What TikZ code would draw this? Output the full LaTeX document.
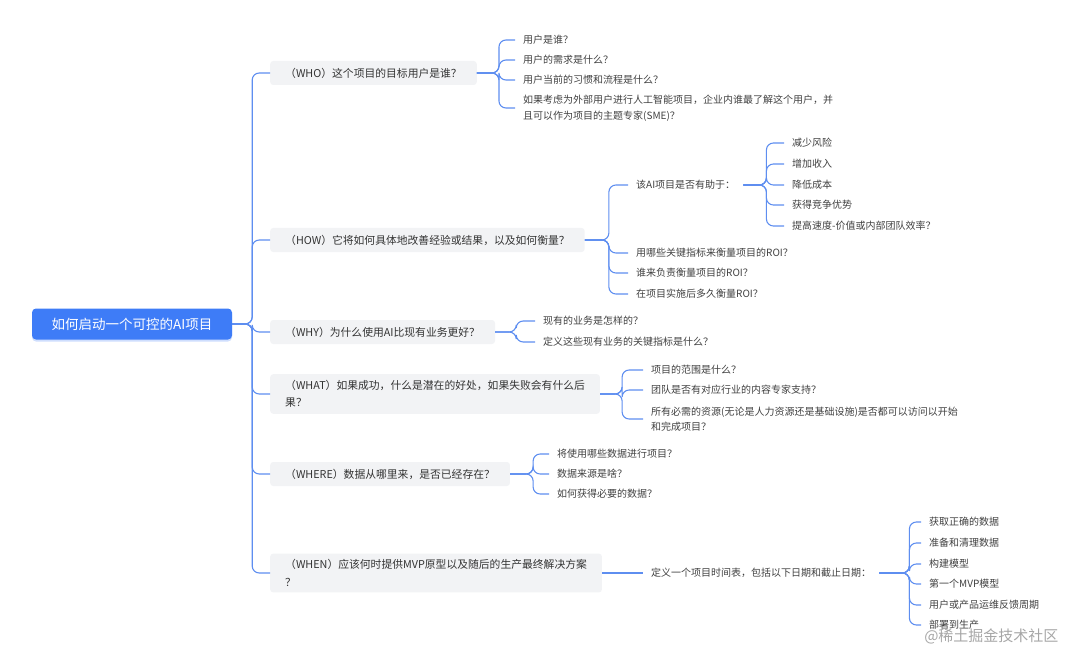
\documentclass[tikz,border=0pt]{standalone}
\usepackage{fontspec}
\setmainfont{Noto Sans CJK SC}
\usetikzlibrary{positioning,shadows}
\definecolor{cLink}{RGB}{94,142,240}
\definecolor{cRoot}{RGB}{62,124,247}
\definecolor{cBox}{RGB}{242,243,245}
\definecolor{cText}{RGB}{51,51,51}
\definecolor{cLeaf}{RGB}{64,64,64}
\tikzset{myroot/.style={
  shape=rectangle,
  rounded corners=4pt,
  fill=cRoot,
  text=white,
  minimum width=200pt,
  minimum height=31pt,
  font=\fontsize{13.5}{16}\selectfont,
  drop shadow={fill=cRoot, opacity=0.25, shadow xshift=0pt, shadow yshift=-2pt},
  }
}
\tikzset{mybranch/.style={
  shape=rectangle,
  rounded corners=3pt,
  fill=cBox,
  text=cText,
  anchor=west,
  align=left,
  inner xsep=15pt,
  inner ysep=6pt,
  minimum height=24pt,
  font=\fontsize{10.8}{17.5}\selectfont,
  }
}
\tikzset{myleaf/.style={
  anchor=west,
  align=left,
  text=cLeaf,
  inner xsep=8pt,
  inner ysep=2pt,
  font=\fontsize{10}{15.5}\selectfont,
  }
}
\tikzset{mylink/.style={
  draw=cLink,
  line width=1.1pt,
  rounded corners=7pt,
  }
}
\tikzset{mymark/.style={
  text=black!35,
  font=\fontsize{15}{18}\selectfont,
  }
}

\begin{document}
\begin{tikzpicture}[x=1pt,y=-1pt]
  \useasboundingbox (0,0) rectangle (1080,666);

  \node[myroot] (root) at (132,324) {如何启动一个可控的AI项目};

  \node[mybranch] (who)   at (270,73)  {（WHO）这个项目的目标用户是谁？};
  \node[mybranch] (how)   at (270,240) {（HOW）它将如何具体地改善经验或结果，以及如何衡量？};
  \node[mybranch] (why)   at (270,332) {（WHY）为什么使用AI比现有业务更好？};
  \node[mybranch] (what)  at (270,394) {（WHAT）如果成功，什么是潜在的好处，如果失败会有什么后\\果？};
  \node[mybranch] (where) at (270,474) {（WHERE）数据从哪里来，是否已经存在？};
  \node[mybranch] (when)  at (270,573) {（WHEN）应该何时提供MVP原型以及随后的生产最终解决方案\\？};

  % who
  \node[myleaf] (who1) at (515,40)  {用户是谁？};
  \node[myleaf] (who2) at (515,60)  {用户的需求是什么？};
  \node[myleaf] (who3) at (515,80)  {用户当前的习惯和流程是什么？};
  \node[myleaf] (who4) at (515,108) {如果考虑为外部用户进行人工智能项目，企业内谁最了解这个用户，并\\且可以作为项目的主题专家(SME)？};

  % how
  \node[myleaf] (how1) at (628,185) {该AI项目是否有助于：};
  \node[myleaf] (how2) at (628,253) {用哪些关键指标来衡量项目的ROI？};
  \node[myleaf] (how3) at (628,273) {谁来负责衡量项目的ROI？};
  \node[myleaf] (how4) at (628,294) {在项目实施后多久衡量ROI？};

  \node[myleaf] (howa) at (784,143) {减少风险};
  \node[myleaf] (howb) at (784,164) {增加收入};
  \node[myleaf] (howc) at (784,185) {降低成本};
  \node[myleaf] (howd) at (784,205) {获得竞争优势};
  \node[myleaf] (howe) at (784,226) {提高速度-价值或内部团队效率？};

  % why
  \node[myleaf] (why1) at (535,321) {现有的业务是怎样的？};
  \node[myleaf] (why2) at (535,342) {定义这些现有业务的关键指标是什么？};

  % what
  \node[myleaf] (what1) at (643,370) {项目的范围是什么？};
  \node[myleaf] (what2) at (643,390) {团队是否有对应行业的内容专家支持？};
  \node[myleaf] (what3) at (643,419) {所有必需的资源(无论是人力资源还是基础设施)是否都可以访问以开始\\和完成项目？};

  % where
  \node[myleaf] (where1) at (549,454) {将使用哪些数据进行项目？};
  \node[myleaf] (where2) at (549,474) {数据来源是啥？};
  \node[myleaf] (where3) at (549,494) {如何获得必要的数据？};

  % when
  \node[myleaf] (when1) at (643,573) {定义一个项目时间表，包括以下日期和截止日期：};

  \node[myleaf] (whena) at (921,522) {获取正确的数据};
  \node[myleaf] (whenb) at (921,543) {准备和清理数据};
  \node[myleaf] (whenc) at (921,564) {构建模型};
  \node[myleaf] (whend) at (921,584) {第一个MVP模型};
  \node[myleaf] (whene) at (921,605) {用户或产品运维反馈周期};
  \node[myleaf] (whenf) at (921,625) {部署到生产};

  \node[mymark, anchor=east] (mark) at (1062,636) {@稀土掘金技术社区};

  \foreach \b in {who,how,why,what,where,when}
    \draw[mylink] (root.east) -- ++(20,0) |- (\b.west);
  \foreach \c in {who1,who2,who3,who4}
    \draw[mylink] (who.east) -- ++(22,0) |- (\c.west);
  \foreach \c in {how1,how2,how3,how4}
    \draw[mylink] (how.east) -- ++(24,0) |- (\c.west);
  \foreach \c in {howa,howb,howc,howd,howe}
    \draw[mylink] (how1.east) -- ++(23,0) |- (\c.west);
  \foreach \c in {why1,why2}
    \draw[mylink] (why.east) -- ++(21,0) |- (\c.west);
  \foreach \c in {what1,what2,what3}
    \draw[mylink] (what.east) -- ++(22,0) |- (\c.west);
  \foreach \c in {where1,where2,where3}
    \draw[mylink] (where.east) -- ++(23,0) |- (\c.west);
  \draw[mylink] (when.east) -- (when1.west);
  \foreach \c in {whena,whenb,whenc,whend,whene,whenf}
    \draw[mylink] (when1.east) -- ++(30,0) |- (\c.west);
\end{tikzpicture}
\end{document}
